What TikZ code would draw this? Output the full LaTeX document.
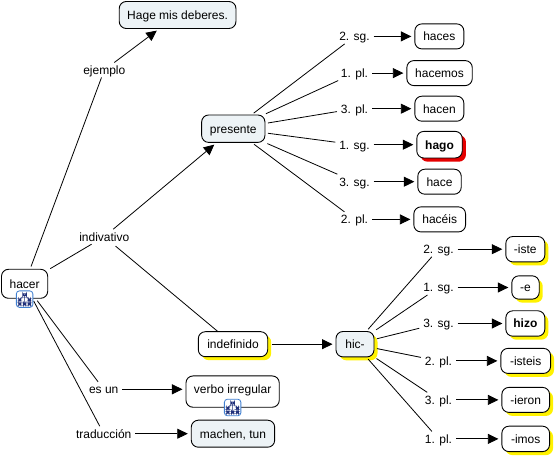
\documentclass[tikz,border=0pt]{standalone}
\usepackage{fontspec}
\setmainfont{Liberation Sans}
\usepackage{tikz}
\usetikzlibrary{positioning, arrows.meta, shadows}
\definecolor{cnfill}{HTML}{EDF3F6}
\definecolor{iconblue}{HTML}{3F7FD0}
\definecolor{iconnavy}{HTML}{20307A}
\tikzset{
  cn/.style    = {draw, fill=white, rounded corners=7pt, align=center, inner sep=0pt, outer sep=0pt,
                  line width=0.9pt, minimum height=25pt, text height=9pt, text depth=0pt,
                  font=\fontsize{12pt}{14pt}\selectfont},
  cnf/.style   = {cn, fill=cnfill},
  ysh/.style   = {drop shadow={shadow xshift=3.5pt, shadow yshift=-3.5pt, fill=yellow, opacity=1}},
  rsh/.style   = {drop shadow={shadow xshift=3.7pt, shadow yshift=-3.7pt, fill=red!90!black, opacity=1}},
  lbl/.style   = {inner xsep=4pt, inner ysep=3pt, outer sep=0pt, text height=9pt, text depth=0pt,
                  font=\fontsize{12pt}{14pt}\selectfont},
  ln/.style    = {line width=0.8pt, shorten <=3pt},
  ar/.style    = {-{Triangle[length=10.5pt, width=10pt]}, line width=0.8pt, shorten >=3.5pt},
  mapicon/.style = {draw=iconblue, fill=white, rounded corners=3pt, line width=0.8pt,
                  minimum size=16.5pt, inner sep=0pt, outer sep=0pt,
                  path picture={
                    \begin{scope}[shift={(path picture bounding box.center)}]
                      \draw[iconnavy, line width=0.45pt, fill=white]
                        (-2,3.4) rectangle (2,5.6)
                        (-6,-1.8) rectangle (-3.6,0.4)
                        (3.6,-1.8) rectangle (6,0.4)
                        (-6,-6) rectangle (-3.6,-3.8)
                        (-1.2,-6) rectangle (1.2,-3.8)
                        (3.6,-6) rectangle (6,-3.8);
                      \draw[iconnavy, line width=0.45pt]
                        (0,3.4) -- (0,-3.8)
                        (-4.8,0.4) -- (-4.8,2) -- (4.8,2) -- (4.8,0.4)
                        (-4.8,-1.8) -- (-4.8,-3.8)
                        (4.8,-1.8) -- (4.8,-3.8);
                    \end{scope}}},
}

\begin{document}
\begin{tikzpicture}[x=1pt, y=1pt]
  \useasboundingbox (0,0) rectangle (555,-457);
  % ---- left: root and its four branches ----
  \node[cn, minimum width=46.2pt, minimum height=29pt] (hacer) at (24.6,-283.8) {hacer};
  \node[lbl, above=191.8pt of hacer, xshift=79.7pt] (ejemplo) {ejemplo};
  \node[cnf, minimum width=116.7pt, minimum height=27pt, above=34pt of ejemplo, xshift=73.3pt] (deberes) {Hage mis deberes.};
  \node[lbl, above=25.1pt of hacer, xshift=79.7pt] (indivativo) {indivativo};
  \node[lbl, below=83.5pt of hacer, xshift=79.1pt] (esun) {es un};
  \node[lbl, below=29.4pt of esun] (traduccion) {traducción};
  \node[cn, minimum width=93.3pt, minimum height=31.3pt, text depth=5pt, right=63.6pt of esun, yshift=-2.3pt] (verbo) {verbo irregular};
  \node[cnf, minimum width=83.4pt, minimum height=27pt, right=55.9pt of traduccion] (machen) {machen, tun};
  \draw[ln] (hacer)--(ejemplo);  \draw[ar] (ejemplo)--(deberes);
  \draw[ln] (hacer)--(indivativo);
  \draw[ln] (hacer)--(esun);  \draw[ar] (esun)--(esun -| verbo.west);
  \draw[ln] (hacer)--(traduccion);  \draw[ar] (traduccion)--(machen);
  \node[mapicon, below=-7.4pt of hacer] (hacericon) {};
  \node[mapicon, below=-8pt of verbo] (verboicon) {};

  % ---- upper right: presente ----
  \node[cnf, minimum width=63.3pt, minimum height=27.4pt, above=86.8pt of indivativo, xshift=129pt] (presente) {presente};
  \node[lbl, above=71.1pt of presente, xshift=121.2pt] (p1) {2. sg.};
  \node[lbl, below=21.7pt of p1] (p2) {1. pl.};
  \node[lbl, below=20.6pt of p2] (p3) {3. pl.};
  \node[lbl, below=21pt of p3] (p4) {1. sg.};
  \node[lbl, below=22pt of p4] (p5) {3. sg.};
  \node[lbl, below=22.7pt of p5] (p6) {2. pl.};
  \node[cn, minimum width=49pt, right=41.1pt of p1] (haces) {haces};
  \node[cn, minimum width=65.4pt, right=34.8pt of p2] (hacemos) {hacemos};
  \node[cn, minimum width=49pt, right=42.8pt of p3] (hacen) {hacen};
  \node[cn, minimum width=45.4pt, minimum height=26.6pt, rsh, right=43.1pt of p4] (hago) {\textbf{hago}};
  \node[cn, minimum width=43.4pt, right=44.1pt of p5] (hace) {hace};
  \node[cn, minimum width=51.7pt, right=41.8pt of p6] (haceis) {hacéis};
  \draw[ar] (indivativo)--(presente);
  \draw[ln] (presente)--(p1);  \draw[ar] (p1)--(haces);
  \draw[ln] (presente)--(p2);  \draw[ar] (p2)--(hacemos);
  \draw[ln] (presente)--(p3);  \draw[ar] (p3)--(hacen);
  \draw[ln] (presente)--(p4);  \draw[ar] (p4)--(hago);
  \draw[ln] (presente)--(p5);  \draw[ar] (p5)--(hace);
  \draw[ln] (presente)--(p6);  \draw[ar] (p6)--(haceis);

  % ---- lower right: indefinido ----
  \node[cn, minimum width=69.4pt, ysh, below=87.5pt of indivativo, xshift=128.7pt] (indefinido) {indefinido};
  \node[cnf, minimum width=38pt, minimum height=25.4pt, ysh, right=68.3pt of indefinido] (hic) {hic-};
  \node[lbl, above=74.8pt of hic, xshift=83.5pt] (q1) {2. sg.};
  \node[lbl, below=23.3pt of q1] (q2) {1. sg.};
  \node[lbl, below=21pt of q2] (q3) {3. sg.};
  \node[lbl, below=22.4pt of q3] (q4) {2. pl.};
  \node[lbl, below=24pt of q4] (q5) {3. pl.};
  \node[lbl, below=24pt of q5] (q6) {1. pl.};
  \node[cn, minimum width=39pt, minimum height=25.4pt, ysh, right=48.1pt of q1] (iste) {-iste};
  \node[cn, minimum width=27.4pt, minimum height=23.3pt, ysh, right=54.1pt of q2] (e) {-e};
  \node[cn, minimum width=39pt, minimum height=25.4pt, ysh, right=48.1pt of q3] (hizo) {\textbf{hizo}};
  \node[cn, minimum width=49.7pt, ysh, right=44.8pt of q4] (isteis) {-isteis};
  \node[cn, minimum width=47.7pt, ysh, right=45.8pt of q5] (ieron) {-ieron};
  \node[cn, minimum width=47.7pt, minimum height=25.4pt, ysh, right=45.8pt of q6] (imos) {-imos};
  \draw[ln] (indivativo)--(indefinido);
  \draw[ar, shorten <=4pt] (indefinido)--(hic);
  \draw[ln] (hic)--(q1);  \draw[ar] (q1)--(iste);
  \draw[ln] (hic)--(q2);  \draw[ar] (q2)--(e);
  \draw[ln] (hic)--(q3);  \draw[ar] (q3)--(hizo);
  \draw[ln] (hic)--(q4);  \draw[ar] (q4)--(isteis);
  \draw[ln] (hic)--(q5);  \draw[ar] (q5)--(ieron);
  \draw[ln] (hic)--(q6);  \draw[ar] (q6)--(imos);
\end{tikzpicture}
\end{document}
